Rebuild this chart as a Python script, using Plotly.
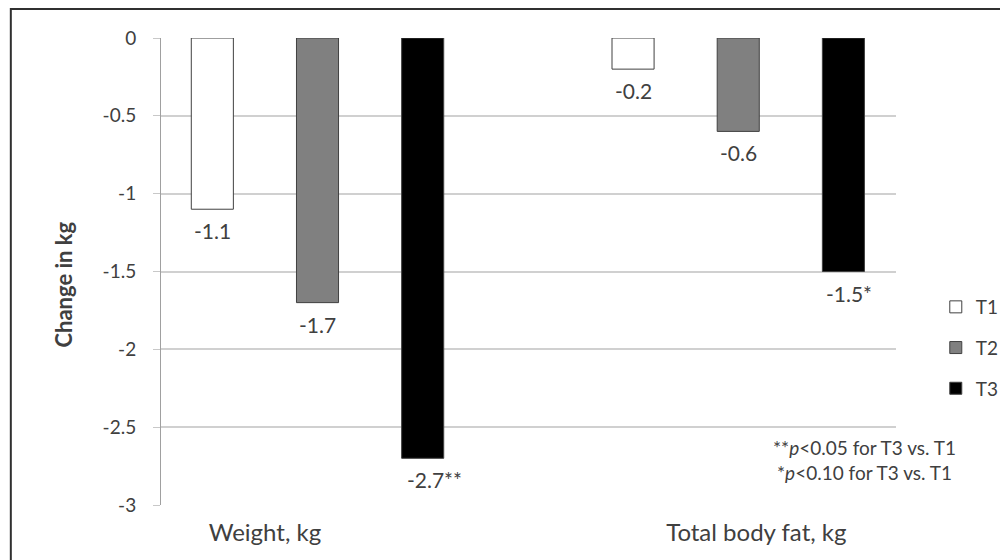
import plotly.graph_objects as go

categories = ["Weight, kg", "Total body fat, kg"]
series_names = ["T1", "T2", "T3"]
t1_values = [-1.1, -0.2]
t2_values = [-1.7, -0.6]
t3_values = [-2.7, -1.5]
t3_marks = ["**", "*"]
y_tick_vals = [0, -0.5, -1, -1.5, -2, -2.5, -3]
y_tick_text = ["0", "-0.5", "-1", "-1.5", "-2", "-2.5", "-3"]
notes = ["**<i>p</i><0.05 for T3 vs. T1", "*<i>p</i><0.10 for T3 vs. T1"]

FONT = "Lato"
TXT = "#404040"
fills = ["#ffffff", "#808080", "#000000"]
offsets = [-0.30, -0.05, 0.20]
bw = 0.10
label_shifts = [-0.125, 0.043]
group_x = list(range(len(categories)))

# plot area in figure pixels
L, R, T, B = 153, 892, 30, 497
W, H = R - L, B - T

def px(xf):
    return (xf - L) / W

def py(yf):
    return (B - yf) / H

fig = go.Figure()
all_vals = [t1_values, t2_values, t3_values]
all_marks = [["", ""], ["", ""], t3_marks]
for i, (name, vals) in enumerate(zip(series_names, all_vals)):
    fig.add_trace(go.Bar(
        x=group_x, y=vals, name=name, width=bw, offset=offsets[i],
        marker=dict(color=fills[i], line=dict(color="#404040", width=1)),
        legendgroup=name, showlegend=True,
    ))
    for gx, v, mk in zip(group_x, vals, all_marks[i]):
        fig.add_annotation(
            x=gx + offsets[i] + bw / 2, y=v, text=f"{v:g}{mk}",
            showarrow=False, yanchor="top", xanchor="center",
            yshift=-7, xshift=6 * len(mk),
            font=dict(family=FONT, size=21, color=TXT),
        )

fig.update_layout(
    width=1008, height=560,
    margin=dict(l=L, r=1008 - R, t=T, b=560 - B),
    paper_bgcolor="white", plot_bgcolor="white",
    barmode="overlay",
    font=dict(family=FONT, color=TXT),
    xaxis=dict(
        range=[-0.372, 1.375], showgrid=False, zeroline=False,
        tickvals=[g + s for g, s in zip(group_x, label_shifts)], ticktext=categories,
        ticks="outside", ticklen=6, tickcolor="rgba(0,0,0,0)",
        tickfont=dict(family=FONT, size=24, color=TXT), showline=False,
    ),
    yaxis=dict(
        range=[-3, 0], tickvals=y_tick_vals, ticktext=y_tick_text,
        showgrid=True, gridcolor="#d0d0d0", gridwidth=1.5,
        zeroline=False, showline=True, linecolor="#a0a0a0", linewidth=1,
        ticks="outside", ticklen=7, tickcolor="#c8c8c8",
        ticklabelstandoff=13,
        tickfont=dict(family=FONT, size=19, color=TXT),
    ),
    legend=dict(
        x=px(932), y=py(280), xanchor="left", yanchor="top",
        font=dict(family=FONT, size=19, color=TXT),
        tracegroupgap=13, bgcolor="rgba(0,0,0,0)",
    ),
)

fig.add_annotation(
    xref="paper", yref="paper", x=px(54), y=py(277), text="<b>Change in kg</b>",
    textangle=-90, showarrow=False, xanchor="center", yanchor="middle",
    font=dict(family=FONT, size=22, color=TXT),
)
for k, note in enumerate(notes):
    fig.add_annotation(
        xref="paper", yref="paper", x=px(860), y=py(439 + 25 * k),
        text=note, showarrow=False, xanchor="center", yanchor="middle",
        font=dict(family=FONT, size=19, color=TXT),
    )

fig.add_shape(
    type="rect", xref="paper", yref="paper",
    x0=px(2), x1=px(1020), y0=py(570), y1=py(1),
    line=dict(color="#303030", width=2), fillcolor="rgba(0,0,0,0)", layer="below",
)

fig.write_html("out.html")
